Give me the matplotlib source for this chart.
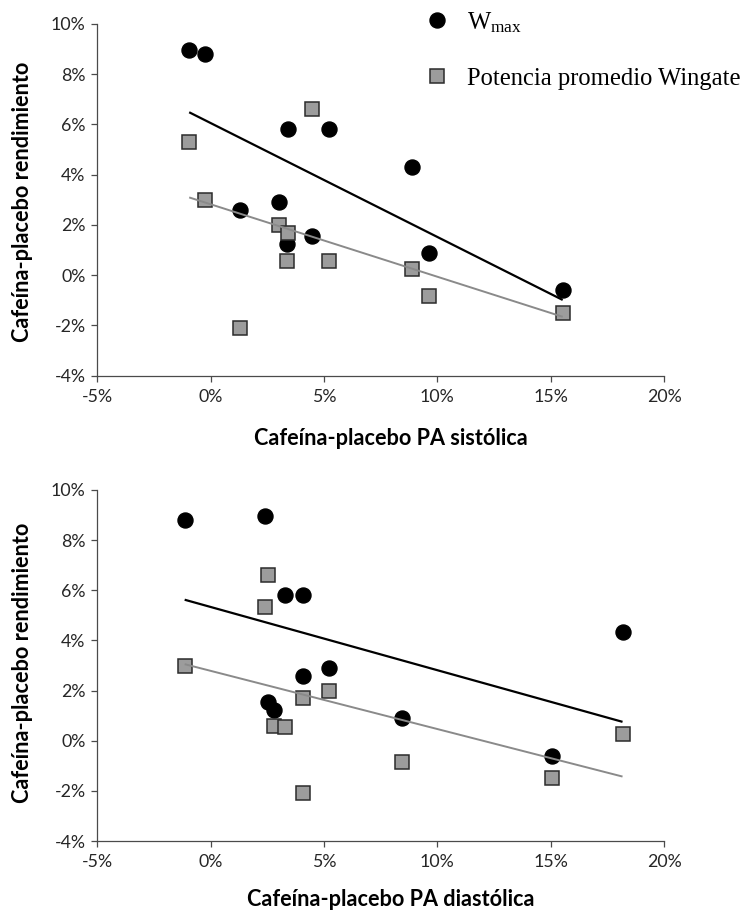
import matplotlib
matplotlib.use("Agg")
import matplotlib.pyplot as plt
from matplotlib.lines import Line2D
import numpy as np

# Per-subject differences (caffeine minus placebo), in percent
bp_systolic = [-0.95, -0.25, 1.30, 3.00, 3.42, 3.36, 4.46, 5.22, 8.87, 9.65, 15.53]
bp_diastolic = [2.40, -1.15, 4.05, 5.24, 4.09, 2.78, 2.52, 3.26, 18.17, 8.46, 15.07]
wmax = [8.97, 8.80, 2.58, 2.92, 5.82, 1.23, 1.56, 5.82, 4.32, 0.89, -0.60]
wingate_mean_power = [5.32, 3.00, -2.10, 1.99, 1.70, 0.58, 6.62, 0.55, 0.26, -0.84, -1.49]

x_ticks = [-5, 0, 5, 10, 15, 20]
y_ticks = [-4, -2, 0, 2, 4, 6, 8, 10]
y_label = "Cafeína-placebo rendimiento"
x_labels = ["Cafeína-placebo PA sistólica", "Cafeína-placebo PA diastólica"]
legend_labels = [r"$\mathrm{W_{max}}$", "Potencia promedio Wingate"]

plt.rcParams["mathtext.fontset"] = "custom"
plt.rcParams["mathtext.rm"] = "Liberation Serif"
plt.rcParams["mathtext.it"] = "Liberation Serif:italic"

SANS = "Lato"
AXIS_COLOR = "#4a4a4a"
TEXT_COLOR = "#262626"
SQ_FILL = "#9c9c9c"
SQ_EDGE = "#2b2b2b"
GRAY_LINE = "#8a8a8a"

fig = plt.figure(figsize=(7.43, 9.16), dpi=100)
left, width = 97.4 / 743, 566.6 / 743
ax_top = fig.add_axes([left, 1 - 375.7 / 916, width, 351.7 / 916])
ax_bot = fig.add_axes([left, 1 - 841 / 916, width, 351.0 / 916])


def trend(ax, x, y, color, lw):
    x = np.asarray(x, float)
    y = np.asarray(y, float)
    slope, icpt = np.polyfit(x, y, 1)
    xs = np.array([x.min(), x.max()])
    ax.plot(xs, slope * xs + icpt, color=color, lw=lw, zorder=4,
            solid_capstyle="butt")


for ax, xvals in [(ax_top, bp_systolic), (ax_bot, bp_diastolic)]:
    ax.plot(xvals, wmax, linestyle="none", marker="o", markersize=10.8,
            markerfacecolor="black", markeredgecolor="black", zorder=3)
    ax.plot(xvals, wingate_mean_power, linestyle="none", marker="s",
            markersize=9.8, markerfacecolor=SQ_FILL, markeredgecolor=SQ_EDGE,
            markeredgewidth=1.1, zorder=3)
    trend(ax, xvals, wmax, "black", 1.6)
    trend(ax, xvals, wingate_mean_power, GRAY_LINE, 1.4)

    ax.set_xlim(-5, 20)
    ax.set_ylim(-4, 10)
    ax.set_xticks(x_ticks)
    ax.set_yticks(y_ticks)
    ax.set_xticklabels([f"{t}%" for t in x_ticks])
    ax.set_yticklabels([f"{t}%" for t in y_ticks])
    for s in ["top", "right"]:
        ax.spines[s].set_visible(False)
    for s in ["left", "bottom"]:
        ax.spines[s].set_color(AXIS_COLOR)
        ax.spines[s].set_linewidth(0.9)
    ax.tick_params(axis="both", direction="out", length=4.5, width=0.9,
                   color=AXIS_COLOR, labelcolor=TEXT_COLOR, labelsize=12.8)
    ax.tick_params(axis="x", pad=5)
    ax.tick_params(axis="y", pad=4)
    for lab in ax.get_xticklabels() + ax.get_yticklabels():
        lab.set_fontfamily(SANS)

# Axis titles
title_kw = dict(fontfamily=SANS, fontweight="bold", fontsize=15.6, color="black")
fig.text(0.0306, 0.7795, y_label, rotation=90, ha="center", va="center", **title_kw)
fig.text(0.0306, 0.2762, y_label, rotation=90, ha="center", va="center", **title_kw)
fig.text(391 / 743, 1 - 438 / 916, x_labels[0], ha="center", va="center", **title_kw)
fig.text(391 / 743, 1 - 900 / 916, x_labels[1], ha="center", va="center", **title_kw)

# Legend
handles = [
    Line2D([], [], linestyle="none", marker="o", markersize=10.8,
           markerfacecolor="black", markeredgecolor="black"),
    Line2D([], [], linestyle="none", marker="s", markersize=9.8,
           markerfacecolor=SQ_FILL, markeredgecolor=SQ_EDGE,
           markeredgewidth=1.1),
]
fig.legend(handles, legend_labels, loc="upper left",
           bbox_to_anchor=(424.7 / 743, 1 - 10 / 916),
           frameon=False, borderpad=0, borderaxespad=0, handlelength=1.0,
           handletextpad=0.72, labelspacing=1.34,
           prop={"family": "Liberation Serif", "size": 17.7})

fig.savefig("out.png", dpi=100, facecolor="white")
